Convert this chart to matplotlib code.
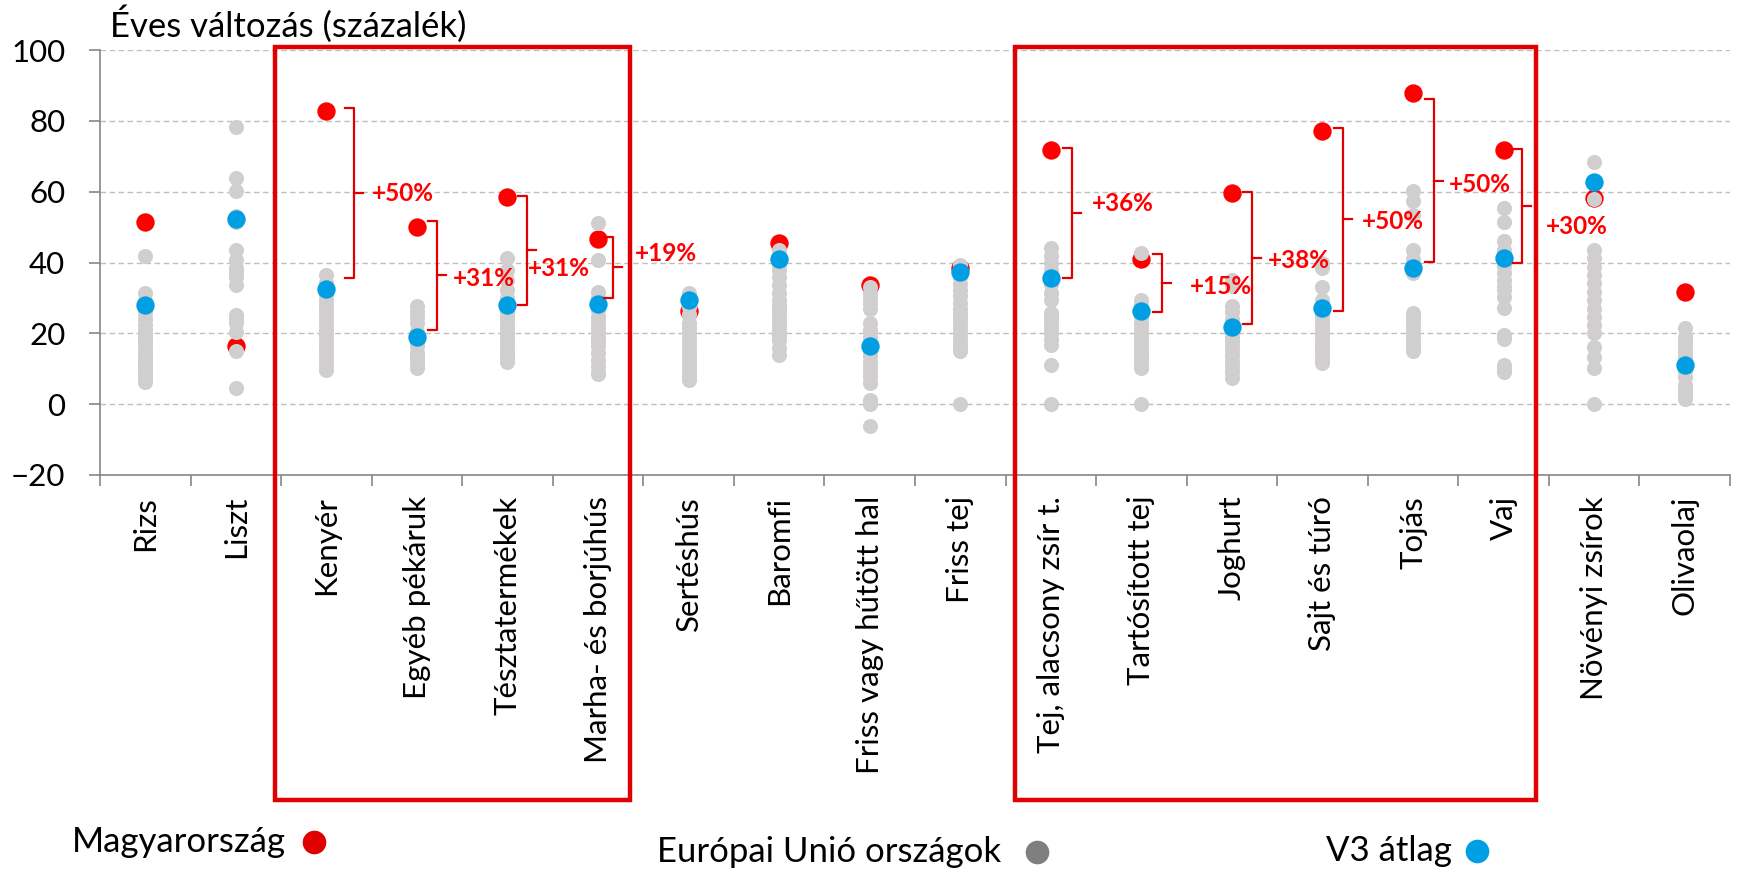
import matplotlib
matplotlib.use("Agg")
import matplotlib.pyplot as plt
import matplotlib.transforms as mtransforms
from matplotlib.patches import Rectangle
from matplotlib.lines import Line2D

plt.rcParams["font.family"] = ["Lato", "DejaVu Sans"]

categories = ["Rizs", "Liszt", "Kenyér", "Egyéb pékáruk", "Tésztatermékek",
              "Marha- és borjúhús", "Sertéshús", "Baromfi", "Friss vagy hűtött hal",
              "Friss tej", "Tej, alacsony zsír t.", "Tartósított tej", "Joghurt",
              "Sajt és túró", "Tojás", "Vaj", "Növényi zsírok", "Olivaolaj"]

# EU countries (grey dots), one list per category
eu_values = [
    [41.7, 31.3, 29.0, 27.0, 25.7, 24.0, 22.4, 21.0, 19.8, 19.1, 18.0, 17.2, 16.3, 15.0, 14.0, 13.5, 12.3, 11.5, 10.6, 9.8, 8.7, 7.5, 6.4],
    [78.4, 64.0, 60.2, 53.0, 51.5, 43.4, 40.7, 38.4, 37.2, 36.0, 33.7, 25.2, 24.0, 22.9, 20.5, 14.9, 4.5],
    [36.5, 34.1, 31.0, 29.4, 28.0, 26.6, 25.2, 23.8, 22.4, 21.0, 19.6, 18.2, 16.8, 15.3, 13.9, 12.5, 11.1, 9.7],
    [27.6, 26.0, 24.7, 22.9, 20.5, 19.0, 17.5, 16.3, 14.5, 13.2, 12.5, 11.0, 10.2],
    [41.2, 37.9, 35.1, 32.3, 30.0, 26.5, 25.7, 24.3, 22.9, 21.5, 20.0, 18.6, 17.2, 15.8, 14.4, 13.2, 12.0],
    [51.1, 40.7, 31.8, 30.0, 26.5, 24.7, 23.3, 21.9, 20.5, 19.1, 17.7, 16.3, 14.5, 12.5, 10.8, 9.2, 8.5],
    [31.3, 29.8, 27.5, 25.5, 22.9, 21.5, 20.0, 18.6, 17.2, 15.8, 14.4, 13.0, 11.6, 10.4, 9.2, 8.0, 6.9],
    [43.5, 39.5, 37.9, 35.8, 33.7, 31.5, 29.4, 28.0, 26.6, 25.2, 23.8, 22.4, 21.0, 19.6, 18.2, 16.0, 13.9],
    [33.0, 31.3, 30.0, 28.5, 27.0, 22.9, 21.0, 19.1, 17.5, 15.0, 13.5, 12.0, 10.6, 9.2, 7.8, 5.9, 1.2, 0.0, -6.3],
    [39.3, 38.0, 36.0, 34.0, 32.3, 30.5, 28.5, 27.0, 25.7, 24.3, 22.9, 21.5, 20.0, 18.6, 17.2, 16.0, 14.9, 0.0],
    [44.0, 41.7, 40.0, 37.9, 34.0, 31.3, 29.5, 25.7, 24.3, 22.9, 21.5, 20.0, 18.4, 16.7, 11.1, 0.0],
    [42.6, 29.4, 28.0, 24.5, 22.9, 21.5, 20.0, 18.6, 17.2, 15.8, 14.4, 13.0, 11.6, 10.2, 0.0],
    [35.1, 33.5, 27.6, 26.0, 24.0, 20.5, 19.1, 17.7, 16.3, 14.9, 13.5, 12.0, 10.6, 9.0, 7.3],
    [40.0, 38.4, 33.2, 29.4, 28.0, 25.3, 23.8, 22.4, 21.0, 19.6, 18.2, 16.8, 15.3, 13.9, 12.5, 11.5],
    [60.2, 57.5, 53.4, 43.6, 41.0, 37.0, 25.7, 24.3, 22.9, 21.5, 20.0, 18.6, 17.2, 15.8, 14.9],
    [55.4, 51.3, 46.0, 43.6, 38.9, 37.0, 35.1, 33.5, 32.3, 30.4, 27.1, 19.6, 18.5, 11.0, 10.2, 9.0],
    [68.4, 57.8, 43.5, 41.2, 38.8, 36.4, 34.1, 31.7, 29.4, 27.0, 24.7, 22.3, 20.0, 16.2, 13.4, 10.1, 0.0],
    [21.4, 19.0, 17.5, 16.2, 14.8, 13.4, 12.0, 9.5, 7.8, 5.5, 4.0, 2.5, 1.6],
]

hungary = [51.3, 16.3, 82.9, 50.1, 58.6, 46.7, 26.2, 45.6, 33.7, 38.4,
           71.8, 40.9, 59.5, 77.1, 88.0, 71.8, 58.3, 31.6]
v3_avg = [28.0, 52.3, 32.5, 19.1, 28.0, 28.2, 29.3, 40.9, 16.3, 37.2,
          35.6, 26.2, 21.9, 27.1, 38.4, 41.2, 62.6, 11.0]

# gap brackets (Hungary vs V3)
bracket_idx = [2, 3, 4, 5, 10, 11, 12, 13, 14, 15]
bracket_top = [83.5, 51.7, 58.9, 47.1, 72.2, 42.4, 59.8, 77.9, 86.2, 72.0]
bracket_bottom = [35.6, 21.0, 28.0, 30.1, 35.6, 25.9, 22.7, 26.4, 40.1, 40.0]
bracket_labels = ["+50%", "+31%", "+31%", "+19%", "+36%", "+15%", "+38%", "+50%", "+50%", "+30%"]
bracket_dx = [0.305, 0.219, 0.212, 0.169, 0.235, 0.230, 0.219, 0.224, 0.236, 0.204]
label_dx = [0.50, 0.394, 0.226, 0.408, 0.45, 0.536, 0.393, 0.431, 0.396, 0.464]
label_y = [59.5, 35.6, 38.4, 42.6, 56.7, 33.2, 40.7, 51.6, 62.1, 50.1]

# highlighted category groups
box_spans = [(1.432, 5.352), (9.604, 15.357)]

RED = "#FF0000"
DARK_RED = "#E00000"
BLUE = "#009FE3"
GREY = "#D0CECE"

fig = plt.figure(figsize=(17.39, 8.73), dpi=100)
ax = fig.add_axes([0.0575, 0.4559, 0.9373, 0.4868])

n = len(categories)
for i in range(n):
    ax.scatter([i], [hungary[i]], s=175, color=RED, zorder=2, linewidths=0)
    ax.scatter([i] * len(eu_values[i]), eu_values[i], s=118, color=GREY,
               zorder=3, linewidths=0)
    ax.scatter([i], [v3_avg[i]], s=175, color=BLUE, zorder=4, linewidths=0)

arm = 0.1
for k, i in enumerate(bracket_idx):
    xb = i + bracket_dx[k]
    top, bot = bracket_top[k], bracket_bottom[k]
    mid = (top + bot) / 2
    ax.plot([xb - arm, xb, xb, xb - arm], [top, top, bot, bot],
            color=DARK_RED, lw=1.6, zorder=5, clip_on=False)
    ax.plot([xb, xb + arm], [mid, mid], color=DARK_RED, lw=1.6, zorder=5, clip_on=False)
    ax.text(i + label_dx[k], label_y[k], bracket_labels[k], color=RED,
            fontsize=17.5, fontweight="bold", ha="left", va="center", zorder=6)

ax.set_xlim(-0.5, n - 0.5)
ax.set_ylim(-20, 100)
ax.set_yticks(range(-20, 101, 20))
ax.tick_params(axis="y", labelsize=22.5, length=8, width=1.2, color="#868686", pad=17)
ax.set_xticks(range(n))
ax.set_xticklabels(categories, rotation=90, fontsize=22.5)
ax.set_xticks([x - 0.5 for x in range(n + 1)], minor=True)
ax.tick_params(axis="x", which="major", length=0, pad=15)
ax.tick_params(axis="x", which="minor", length=8, width=1.2, color="#868686")

ax.grid(axis="y", color="#BFBFBF", linestyle=(0, (4, 2.5)), lw=1.0, zorder=0)
ax.set_axisbelow(True)
for side in ["top", "right"]:
    ax.spines[side].set_visible(False)
for side in ["left", "bottom"]:
    ax.spines[side].set_color("#868686")
    ax.spines[side].set_linewidth(1.2)

trans = mtransforms.blended_transform_factory(ax.transData, fig.transFigure)
for x0, x1 in box_spans:
    ax.add_patch(Rectangle((x0, 0.0836), x1 - x0, 0.9456 - 0.0836, transform=trans,
                           fill=False, edgecolor=DARK_RED, lw=3.2, zorder=7, clip_on=False))

fig.text(0.0633, 0.9725, "Éves változás (százalék)", fontsize=25, ha="left", va="center")

# legend
legend_items = [("Magyarország", 0.0414, 0.1803, 0.0355, DARK_RED),
                ("Európai Unió országok", 0.3778, 0.5963, 0.0240, "#7F7F7F"),
                ("V3 átlag", 0.7625, 0.8493, 0.0252, BLUE)]
for label, tx, dx, y, col in legend_items:
    fig.text(tx, y, label, fontsize=25, ha="left", va="center")
    fig.add_artist(Line2D([dx], [y], marker="o", markersize=16, color=col,
                          linestyle="none", transform=fig.transFigure))

fig.savefig("out.png", dpi=100)
